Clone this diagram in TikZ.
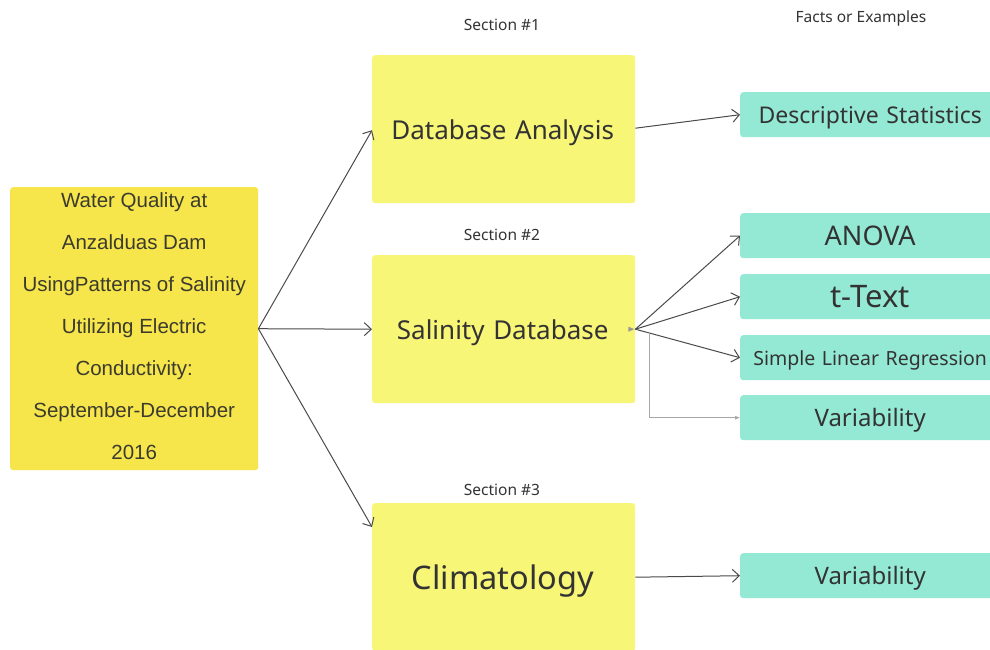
\documentclass[tikz,border=0pt]{standalone}
\usepackage{fontspec}
\setmainfont{Noto Sans}
\newfontfamily\arialfont{Liberation Sans}
\usetikzlibrary{arrows.meta}
\definecolor{titleyellow}{HTML}{F6E54B}
\definecolor{topicyellow}{HTML}{F8F676}
\definecolor{factteal}{HTML}{94E9D4}
\definecolor{inkgray}{HTML}{333333}
\definecolor{linegray}{HTML}{4A4A4A}
\begin{document}
\begin{tikzpicture}[x=1pt,y=-1pt,
  topic/.style={fill=topicyellow, rounded corners=3pt, minimum width=263pt,
    minimum height=148pt, inner sep=0pt, anchor=north west, text=inkgray,
    text width=263pt, align=center, text depth=0pt},
  fact/.style={fill=factteal, rounded corners=3pt, minimum width=260pt,
    minimum height=45pt, inner sep=0pt, anchor=north west, text=inkgray,
    text width=252pt, align=center, text depth=0pt},
  caption/.style={text=inkgray, font=\fontsize{15.5}{18}\selectfont},
  link/.style={draw=linegray, line width=1pt,
    -{Straight Barb[length=7pt,width=13pt,line width=1pt]}},
  thinlink/.style={draw=gray!70, line width=0.6pt, -{Latex[length=5pt,width=4pt]}}
]
\clip (0,0) rectangle (990,649);
\fill[white] (0,0) rectangle (990,649);

% title box
\node[fill=titleyellow, rounded corners=3pt, minimum width=248pt, minimum height=283pt,
  anchor=north west, inner sep=0pt] (title) at (10,187) {};
\node[align=center, text=inkgray!90!olive, font=\arialfont\fontsize{20.5}{42}\selectfont]
  (titletext) at ([yshift=3pt]title.center) {Water Quality at\\Anzalduas Dam\\UsingPatterns of Salinity\\Utilizing Electric\\Conductivity:\\September-December\\2016};

% section captions
\node[caption] (cap1) at (502,25) {Section \#1};
\node[caption] (cap2) at (502,235) {Section \#2};
\node[caption] (cap3) at (502,490) {Section \#3};
\node[caption] (capf) at (861,18) {Facts or Examples};

% section boxes
\node[topic, font=\fontsize{26}{30}\selectfont] (db) at (372,55) {Database Analysis\hspace*{2pt}};
\node[topic, font=\fontsize{26}{30}\selectfont] (sal) at (372,255) {Salinity Database\hspace*{2pt}};
\node[topic, font=\fontsize{32.5}{36}\selectfont] (clim) at (372,503) {Climatology\hspace*{2pt}};

% fact boxes
\node[fact, font=\fontsize{23}{27}\selectfont] (ds) at (740,92) {Descriptive Statistics};
\node[fact, font=\fontsize{27}{31}\selectfont] (anova) at (740,213) {ANOVA};
\node[fact, font=\fontsize{31}{35}\selectfont] (ttext) at (740,274) {t-Text};
\node[fact, font=\fontsize{19.5}{24}\selectfont] (slr) at (740,335) {Simple Linear Regression};
\node[fact, font=\fontsize{24}{28}\selectfont] (var1) at (740,395) {Variability};
\node[fact, font=\fontsize{24}{28}\selectfont] (var2) at (740,553) {Variability};

% connectors from the title
\draw[link] (title.east) -- ([yshift=-1pt]db.west);
\draw[link] (title.east) -- (sal.west);
\draw[link] (title.east) -- ([yshift=-24pt]clim.north west);

% connectors to the facts
\draw[link] ([yshift=1pt]db.east) -- (ds.west);
\draw[link] (sal.east) -- (anova.west);
\draw[link] (sal.east) -- (ttext.west);
\draw[link] (sal.east) -- (slr.west);
\draw[link] (clim.east) -- (var2.west);

% small marker and thin elbow connector
\fill[gray!80] ([xshift=-7pt,yshift=2.5pt]sal.east) -- ([xshift=-1pt]sal.east)
  -- ([xshift=-7pt,yshift=-2.5pt]sal.east) -- cycle;
\draw[thinlink] ([xshift=14pt,yshift=-3pt]sal.east) |- (var1.west);
\end{tikzpicture}
\end{document}
